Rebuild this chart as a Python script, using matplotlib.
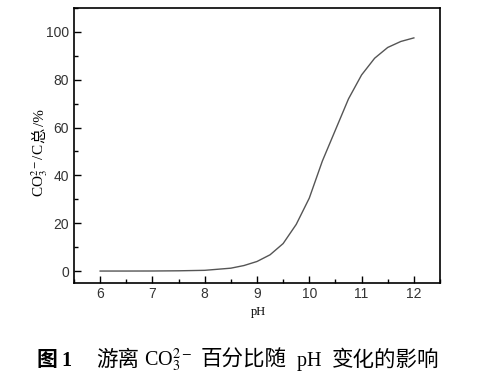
import matplotlib
matplotlib.use("Agg")
import matplotlib.pyplot as plt
from matplotlib.ticker import MultipleLocator

# pH and free CO3(2-) share of total carbonate
ph = [6.0, 6.5, 7.0, 7.5, 8.0, 8.5, 8.75, 9.0, 9.25, 9.5, 9.75, 10.0,
      10.25, 10.5, 10.75, 11.0, 11.25, 11.5, 11.75, 12.0]
co3_pct = [0.0, 0.0, 0.02, 0.1, 0.3, 1.2, 2.3, 4.0, 6.8, 11.5, 19.5, 30.5,
           46.0, 59.0, 72.0, 82.0, 89.0, 93.5, 96.0, 97.5]

x_ticks = [6, 7, 8, 9, 10, 11, 12]
y_ticks = [0, 20, 40, 60, 80, 100]

SERIF = ['Liberation Serif', 'Noto Sans CJK SC']
CJK = ['Noto Sans CJK SC', 'Liberation Serif']
plt.rcParams['mathtext.fontset'] = 'stix'

W, H = 480, 379
fig = plt.figure(figsize=(W / 100, H / 100), dpi=100)
ax = fig.add_axes([74 / W, 1 - 283 / H, 366 / W, 275 / H])

ax.plot(ph, co3_pct, color='#555555', lw=1.0)
ax.set_xlim(5.5, 12.5)
ax.set_ylim(-5, 110)
ax.set_xticks(x_ticks)
ax.set_yticks(y_ticks)
ax.xaxis.set_minor_locator(MultipleLocator(0.5))
ax.yaxis.set_minor_locator(MultipleLocator(10))
ax.tick_params(which='both', direction='in', top=False, right=False,
               labelsize=10, labelcolor='#333333', width=1.0)
ax.tick_params(which='major', length=5)
ax.tick_params(which='minor', length=3)
ax.tick_params(axis='x', pad=3)
for lab in ax.get_xticklabels() + ax.get_yticklabels():
    lab.set_family('Liberation Sans')
for sp in ax.spines.values():
    sp.set_linewidth(1.2)

fig.text(258 / W, 1 - 312 / H, 'pH', ha='center', va='center',
         family=SERIF, fontsize=9)

fig.canvas.draw()
rend = fig.canvas.get_renderer()


def chain_v(x_px, y_px, parts, size, gap=1):
    """Rotated label built from pieces, each starting where the last ended"""
    y = y_px
    for txt, fam in parts:
        t = fig.text(x_px / W, 1 - y / H, txt, rotation=90,
                     rotation_mode='anchor', ha='left', va='baseline',
                     family=fam, fontsize=size)
        bb = t.get_window_extent(rend)
        y = y - bb.height - gap


def chain_h(x_px, y_px, parts):
    """Horizontal line of text pieces on a shared baseline"""
    x = x_px
    for txt, fam, weight, size in parts:
        t = fig.text(x / W, 1 - y_px / H, txt, ha='left', va='baseline',
                     family=fam, fontsize=size, fontweight=weight)
        bb = t.get_window_extent(rend)
        x = x + bb.width


chain_v(44, 197, [(r'CO$_3^{2-}$/C', SERIF), ('总', CJK), ('/%', SERIF)], 11)

chain_h(36, 366, [('图', CJK, 'bold', 15), (' 1', SERIF, 'bold', 14.5)])
chain_h(96, 366, [('游离', CJK, 'normal', 15.5),
                  (r' CO$_3^{2-}$  ', SERIF, 'normal', 14.5),
                  ('百分比随', CJK, 'normal', 15.5),
                  ('  pH  ', SERIF, 'normal', 14.5),
                  ('变化的影响', CJK, 'normal', 15.5)])

fig.savefig('out.png', dpi=100)
